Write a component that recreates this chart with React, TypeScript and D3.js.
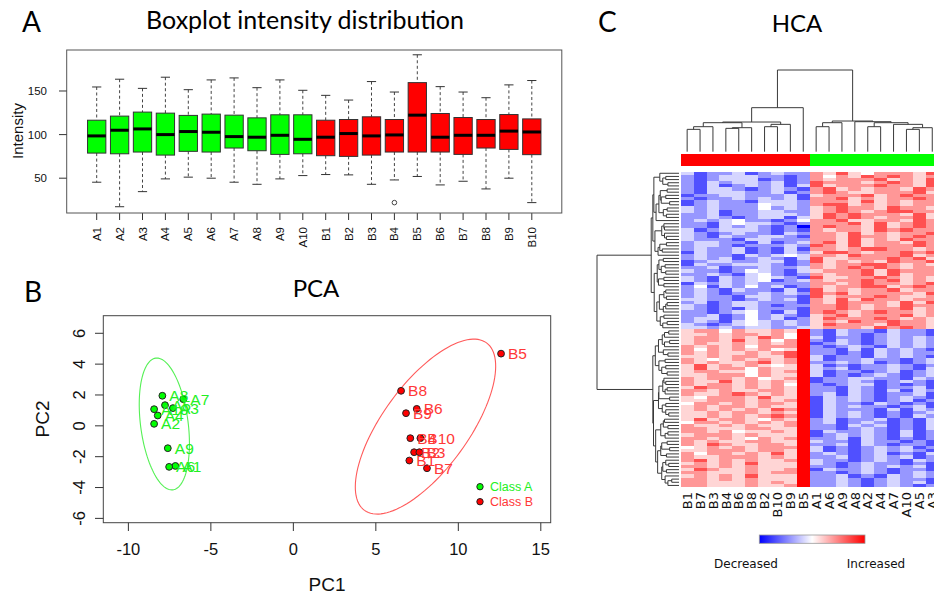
import React from "react";
import * as d3 from "d3";

const W = 934;
const H = 598;

// ---------- Panel A : boxplot ----------
const boxSamples = ["A1","A2","A3","A4","A5","A6","A7","A8","A9","A10","B1","B2","B3","B4","B5","B6","B7","B8","B9","B10"];
const boxLow = [45.4, 17.3, 34.6, 49.2, 51.2, 50, 45.4, 43, 49.2, 53, 54.2, 53.8, 43, 48, 52, 42.3, 46.5, 37.7, 50, 22];
const boxQ1 = [78.8, 78, 80, 76.5, 80.8, 80, 84.6, 81.5, 77.3, 78, 75.8, 75, 76.5, 80, 80, 80, 77.3, 84.6, 83, 77];
const boxMed = [98.5, 105, 106.5, 100, 103.5, 102.7, 97.7, 97, 99.2, 94.6, 97, 101.2, 98.5, 99.6, 122.3, 97, 99.2, 99.2, 104, 103];
const boxQ3 = [116.5, 121.2, 125.8, 124.6, 122, 123.5, 122.3, 119.2, 122.7, 122.7, 116.5, 117.3, 120.4, 117.3, 159.6, 124.2, 119.6, 117.3, 123, 118];
const boxHigh = [154.6, 163.5, 153, 165.8, 151.5, 162.7, 165, 153.8, 162.7, 150.8, 145, 139.6, 160.8, 148.8, 191.5, 155, 148.8, 142.3, 157, 162];
const boxOutSample = ["B4"];
const boxOutValue = [22];
const boxYTicks = [50, 100, 150];

// ---------- Panel B : PCA ----------
const pcaNames = ["A1","A2","A3","A4","A5","A6","A7","A8","A9","A10","B1","B2","B3","B4","B5","B6","B7","B8","B9","B10"];
const pcaPC1 = [-7.15, -8.44, -7.3, -8.22, -7.78, -7.53, -6.67, -7.94, -7.61, -8.44, 7.03, 7.32, 7.64, 7.09, 12.59, 7.48, 8.1, 6.53, 6.83, 7.7];
const pcaPC2 = [-2.6, 0.13, 1.15, 0.67, 1.34, -2.66, 1.73, 1.95, -1.45, 1.08, -2.25, -1.71, -1.71, -0.8, 4.68, 1.1, -2.75, 2.27, 0.82, -0.8];
const pcaXTicks = [-10, -5, 0, 5, 10, 15];
const pcaYTicks = [-6, -4, -2, 0, 2, 4, 6];
const ellClass = ["A", "B"];
const ellCX = [-7.82, 8.01];
const ellCY = [0.12, -0.05];
const ellUX = [0.52, 3.7];
const ellUY = [-4.27, 5.43];
const ellVX = [1.43, 2.1];
const ellVY = [0.2, -1.64];
const legendLabels = ["Class A", "Class B"];

// ---------- Panel C : HCA ----------
const heatCols = ["B1","B7","B3","B4","B6","B8","B2","B10","B9","B5","A1","A6","A9","A8","A2","A4","A7","A10","A5","A3"];
const heatRows = [
  "21233322126465767656","32132343217556676565","23322131236757566576","12233222315666756766",
  "31223123226575466657","22134332126667575676","23213221317565667566","32322242325676657665",
  "21332123216756566576","13223332126566776565","22312423215675666756","32123221326657565667",
  "23221332217566676556","21333223126765566675","32212432135666757666","23123322216576665757",
  "12322133326665756566","23231232137556667675","32123321226676565766","22312233325767666575",
  "23223121316656776656","12332233127565657667","32121322216676566756","23213432325657667665",
  "22132321206766575676","33221232316575766566","21323323127666567657","22312232236567676566",
  "13223121325776566767","32132233216657665676","22321342126566757566","23212232327675666657",
  "31233321216566576766","22321233135767656675","13232322226656766567","22123421316765676656",
  "32312233225676567766","21233312126566675657","23321222327657566676","32132341236566767565",
  "21223232316675656676","23312423125766676565","32221332226657565766","21312323137566676657",
  "23234221246675566576","32123432325766657665","23221323436657666756","24132423126566775676",
  "12322243326775656566","33232332235666576765",
  "56646556582132213221","65665645681223322132","57566546582312231213","65655665583221322121",
  "56657564682132123232","65575656581223212321","46656565682312321213","67565655683221232132",
  "55656656482132123221","66564556581322321312","57665656582213212231","65456565683122322123",
  "56565755582231213232","46656566581322132121","65565655682213231213","56656576483122123232",
  "65765566582231321221","56565657681322213132","64656564582213132321","57565654583121223212",
  "65655675682232312123","56566565581323221231","65655656782212132322","57566465583231223213",
  "65665656482123312121","56556565681232123232","64665657582321231213","56565755583212322121",
  "65656466682123213232","56665655581232321312","65567656582313212231","56655465683122123123",
  "65566656582231232312","57655655681322321221","66565566582213213132","55656655783122132321",
  "66565465682231321212","55656656581323212123","66565655582212323231","45656566683121232312",
  "66565655582232123221","55656567681323212132","66555665582212321213","55666566583121232321",
  "66555655682232123212","54666575581323212321","66555656682212321232","55666465583121232123",
  "66555656582232123231","55666565681323212312"
];
const colTree: any = [245,
  [132, [89, [87, [75, [67, "B1", "B7"], "B3"], [72, [70, "B4", "B6"], "B8"]], [82, [75, "B2", "B10"], "B9"]], "B5"],
  [92, [87, [75, "A1", "A6"], "A9"], [90, "A8", [87, [75, "A2", "A4"], [82, "A7", [72, [67, "A10", "A5"], "A3"]]]]]
];
const legendText = ["Decreased", "Increased"];

const classFill: Record<string, string> = { A: "#00ff00", B: "#ff0000" };
const classText: Record<string, string> = { A: "#22f022", B: "#ff3838" };
const classEll: Record<string, string> = { A: "#55f055", B: "#ff5a5a" };

type HNode = { left?: HNode; right?: HNode; height: number; leaves: number[]; pos?: number };

function hclustComplete(data: number[][]): HNode {
  const n = data.length;
  const cur: HNode[] = data.map((_, i) => ({ height: 0, leaves: [i] }));
  const D: number[][] = [];
  for (let i = 0; i < n; i++) {
    D.push([]);
    for (let j = 0; j < n; j++) {
      let s = 0;
      for (let k = 0; k < data[i].length; k++) {
        const d = data[i][k] - data[j][k];
        s += d * d;
      }
      D[i].push(Math.sqrt(s));
    }
  }
  const alive = new Array(n).fill(true);
  for (let step = 0; step < n - 1; step++) {
    let bi = -1, bj = -1, best = Infinity;
    for (let i = 0; i < n; i++) {
      if (!alive[i]) continue;
      for (let j = i + 1; j < n; j++) {
        if (!alive[j]) continue;
        if (D[i][j] < best) { best = D[i][j]; bi = i; bj = j; }
      }
    }
    const a = cur[bi], b = cur[bj];
    const ma = d3.mean(a.leaves)!, mb = d3.mean(b.leaves)!;
    cur[bi] = { left: ma <= mb ? a : b, right: ma <= mb ? b : a, height: best, leaves: a.leaves.concat(b.leaves) };
    alive[bj] = false;
    for (let k = 0; k < n; k++) {
      if (!alive[k] || k === bi) continue;
      const v = Math.max(D[bi][k], D[bj][k]);
      D[bi][k] = v; D[k][bi] = v;
    }
  }
  return cur[alive.indexOf(true)];
}

function heatColor(v: number) {
  const m = Math.pow(Math.abs(v), 1.3);
  return v < 0 ? d3.interpolateRgb("#ffffff", "#0000ff")(m) : d3.interpolateRgb("#ffffff", "#ff0000")(m);
}

export default function App() {
  // ----- boxplot scales -----
  const bx = d3.scalePoint<string>().domain(boxSamples).range([96.7, 531.8]);
  const by = d3.scaleLinear().domain([10.1, 197]).range([213, 50]);
  const bw = 18.3;
  const capW = 9.2;

  // ----- PCA scales -----
  const px = d3.scaleLinear().domain([-11.52, 15.6]).range([103.3, 550.7]);
  const py = d3.scaleLinear().domain([-6.28, 7.14]).range([522.7, 315.7]);
  const ellLine = d3.line<[number, number]>().x(d => px(d[0])).y(d => py(d[1])).curve(d3.curveLinearClosed);
  const ellPaths = ellClass.map((c, i) => {
    const pts: [number, number][] = d3.range(120).map(k => {
      const t = (k / 120) * Math.PI * 2;
      return [ellCX[i] + ellUX[i] * Math.cos(t) + ellVX[i] * Math.sin(t), ellCY[i] + ellUY[i] * Math.cos(t) + ellVY[i] * Math.sin(t)];
    });
    return { c, d: ellLine(pts) || "" };
  });

  // ----- heatmap -----
  const hLeft = 680.7, hTop = 171.7, hBottom = 487;
  const hx = d3.scaleBand<string>().domain(heatCols).range([hLeft, hLeft + heatCols.length * 12.9]);
  const nRows = heatRows.length;
  const hy = d3.scaleLinear().domain([0, nRows]).range([hTop, hBottom]);
  const rowData = heatRows.map(s => s.split("").map(c => (+c - 4) / 4));
  const tree = hclustComplete(rowData);
  const order: number[] = [];
  const assign = (nd: HNode) => {
    if (!nd.left) { nd.pos = order.length; order.push(nd.leaves[0]); return; }
    assign(nd.left); assign(nd.right!);
    nd.pos = (nd.left.pos! + nd.right!.pos!) / 2;
  };
  assign(tree);
  const rxs = d3.scaleLinear().domain([0, tree.height]).range([679, 597]);
  const ryc = (p: number) => hy(p + 0.5);
  const rowPaths: string[] = [];
  const rp = (nd: HNode) => {
    if (!nd.left) return;
    const l = nd.left, r = nd.right!;
    rowPaths.push(`M${rxs(l.height)},${ryc(l.pos!)}H${rxs(nd.height)}V${ryc(r.pos!)}H${rxs(r.height)}`);
    rp(l); rp(r);
  };
  rp(tree);

  const cys = d3.scaleLinear().domain([0, 245]).range([151.7, 70]);
  const colPaths: string[] = [];
  const cl = (t: any): { x: number; h: number } => {
    if (typeof t === "string") return { x: hx(t)! + hx.bandwidth() / 2, h: 0 };
    const l = cl(t[1]), r = cl(t[2]);
    colPaths.push(`M${l.x},${cys(l.h)}V${cys(t[0])}H${r.x}V${cys(r.h)}`);
    return { x: (l.x + r.x) / 2, h: t[0] };
  };
  cl(colTree);

  const rFont = "'Liberation Sans', Arial, sans-serif";
  const tFont = "Lato, 'Open Sans', sans-serif";
  const hFont = "'DejaVu Sans', Verdana, sans-serif";

  return (
    <svg width={W} height={H} style={{ position: "absolute", left: 0, top: 0, background: "#fff" }} fontFamily={rFont}>
      <defs>
        <linearGradient id="hg" x1="0" x2="1" y1="0" y2="0">
          <stop offset="0" stopColor="#0000ff" />
          <stop offset="0.5" stopColor="#ffffff" />
          <stop offset="1" stopColor="#ff0000" />
        </linearGradient>
      </defs>
      <rect x={0} y={0} width={W} height={H} fill="#fff" />

      {/* ---- Titles ---- */}
      <text x={22} y={32} fontFamily={tFont} fontSize={28}>A</text>
      <text x={305} y={29} fontFamily={tFont} fontSize={25} textAnchor="middle">Boxplot intensity distribution</text>
      <text x={24} y={302} fontFamily={tFont} fontSize={28}>B</text>
      <text x={316} y={297} fontFamily={tFont} fontSize={24} textAnchor="middle">PCA</text>
      <text x={598} y={32} fontFamily={tFont} fontSize={28}>C</text>
      <text x={797} y={32} fontFamily={tFont} fontSize={24} textAnchor="middle">HCA</text>

      {/* ---- Panel A ---- */}
      <g>
        {boxSamples.map((s, i) => {
          const x = bx(s)!;
          const col = classFill[s[0]];
          return (
            <g key={s}>
              <line x1={x} x2={x} y1={by(boxHigh[i])} y2={by(boxQ3[i])} stroke="#444" strokeDasharray="3,2.5" />
              <line x1={x} x2={x} y1={by(boxQ1[i])} y2={by(boxLow[i])} stroke="#444" strokeDasharray="3,2.5" />
              <line x1={x - capW / 2} x2={x + capW / 2} y1={by(boxHigh[i])} y2={by(boxHigh[i])} stroke="#333" />
              <line x1={x - capW / 2} x2={x + capW / 2} y1={by(boxLow[i])} y2={by(boxLow[i])} stroke="#333" />
              <rect x={x - bw / 2} y={by(boxQ3[i])} width={bw} height={by(boxQ1[i]) - by(boxQ3[i])} fill={col} stroke="#333" />
              <line x1={x - bw / 2} x2={x + bw / 2} y1={by(boxMed[i])} y2={by(boxMed[i])} stroke="#000" strokeWidth={3} />
              <line x1={x} x2={x} y1={213} y2={220} stroke="#333" />
              <text transform={`translate(${x},${227}) rotate(-90)`} textAnchor="end" dy="0.35em" fontSize={11.5} fill="#111">{s}</text>
            </g>
          );
        })}
        {boxOutSample.map((s, i) => (
          <circle key={s} cx={bx(s)!} cy={by(boxOutValue[i])} r={2.3} fill="none" stroke="#444" />
        ))}
        <rect x={66.7} y={50} width={495.1} height={163} fill="none" stroke="#555" />
        {boxYTicks.map(t => (
          <g key={t}>
            <line x1={59} x2={66.7} y1={by(t)} y2={by(t)} stroke="#333" />
            <text x={47} y={by(t)} dy="0.35em" textAnchor="end" fontSize={11.5} fill="#111">{t}</text>
          </g>
        ))}
        <text transform={`translate(17.5,131) rotate(-90)`} textAnchor="middle" dy="0.35em" fontSize={15} fill="#111">Intensity</text>
      </g>

      {/* ---- Panel B ---- */}
      <g>
        <rect x={103.3} y={315.7} width={447.4} height={207} fill="none" stroke="#444" />
        {pcaXTicks.map(t => (
          <g key={t}>
            <line x1={px(t)} x2={px(t)} y1={522.7} y2={531} stroke="#333" />
            <text x={px(t)} y={555} textAnchor="middle" fontSize={16.5} fill="#111">{t}</text>
          </g>
        ))}
        {pcaYTicks.map(t => (
          <g key={t}>
            <line x1={95} x2={103.3} y1={py(t)} y2={py(t)} stroke="#333" />
            <text transform={`translate(79,${py(t)}) rotate(-90)`} textAnchor="middle" dy="0.35em" fontSize={16.5} fill="#111">{t}</text>
          </g>
        ))}
        <text x={327} y={591} textAnchor="middle" fontSize={19} fill="#111">PC1</text>
        <text transform={`translate(42,419) rotate(-90)`} textAnchor="middle" dy="0.35em" fontSize={19} fill="#111">PC2</text>
        {ellPaths.map(e => (
          <path key={e.c} d={e.d} fill="none" stroke={classEll[e.c]} strokeWidth={1.1} />
        ))}
        {pcaNames.map((n, i) => (
          <circle key={n} cx={px(pcaPC1[i])} cy={py(pcaPC2[i])} r={3.4} fill={classFill[n[0]]} stroke="#222" strokeWidth={1} />
        ))}
        {pcaNames.map((n, i) => (
          <text key={n} x={px(pcaPC1[i]) + 7} y={py(pcaPC2[i])} dy="0.36em" fontSize={15.5} fill={classText[n[0]]}>{n}</text>
        ))}
        {legendLabels.map((l, i) => (
          <g key={l}>
            <circle cx={480} cy={486.7 + i * 15} r={3.2} fill={classFill[l.slice(-1)]} stroke="#222" />
            <text x={490} y={486.7 + i * 15} dy="0.36em" fontSize={12.5} fill={classText[l.slice(-1)]}>{l}</text>
          </g>
        ))}
      </g>

      {/* ---- Panel C ---- */}
      <g>
        {order.map((ri, r) => (
          <g key={r}>
            {heatCols.map((c, j) => (
              <rect key={c} x={hx(c)!} y={hy(r)} width={hx.bandwidth() + 0.3} height={hy(r + 1) - hy(r) + 0.3}
                fill={heatColor(rowData[ri][j])} shapeRendering="crispEdges" />
            ))}
          </g>
        ))}
        {heatCols.map(c => (
          <rect key={c} x={hx(c)!} y={154} width={hx.bandwidth() + 0.3} height={12} fill={classFill[c[0]]} shapeRendering="crispEdges" />
        ))}
        {rowPaths.map((d, i) => (
          <path key={i} d={d} fill="none" stroke="#3a3a3a" strokeWidth={1} />
        ))}
        {colPaths.map((d, i) => (
          <path key={i} d={d} fill="none" stroke="#3a3a3a" strokeWidth={1} />
        ))}
        {heatCols.map(c => (
          <text key={c} transform={`translate(${hx(c)! + hx.bandwidth() / 2},492) rotate(-90)`} textAnchor="end" dy="0.36em"
            fontFamily={hFont} fontSize={13} fill="#111">{c}</text>
        ))}
        <rect x={759.3} y={535} width={105.7} height={8.3} fill="url(#hg)" stroke="#999" strokeWidth={0.8} />
        <text x={746} y={568} textAnchor="middle" fontFamily={hFont} fontSize={12} fill="#111">{legendText[0]}</text>
        <text x={876} y={568} textAnchor="middle" fontFamily={hFont} fontSize={12} fill="#111">{legendText[1]}</text>
      </g>
    </svg>
  );
}
